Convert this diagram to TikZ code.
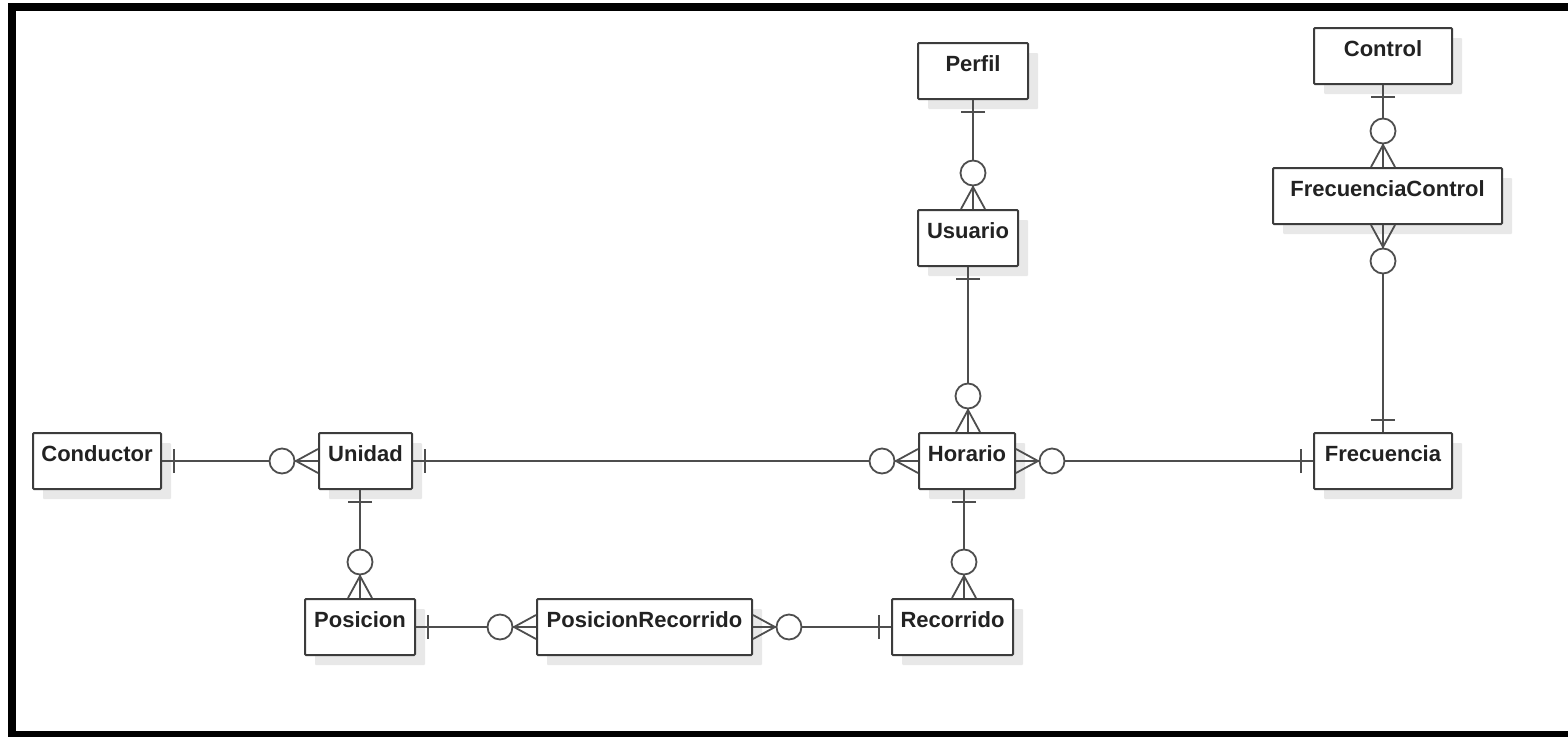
\documentclass[tikz,border=0pt]{standalone}
\usepackage{fontspec}
\setmainfont{Liberation Sans}
\usetikzlibrary{shadows}
\definecolor{edge}{HTML}{3C3C3C}
\definecolor{wire}{HTML}{4E4E4E}
\definecolor{ink}{HTML}{222222}

% one-side marker: a single bar across the line
\newcommand\oneend[2]{%
  \begin{scope}[shift={(#1)}, rotate=#2]
    \draw[wire line] (12,-12) -- (12,12);
  \end{scope}}
% zero-or-many marker: crow's foot at the box and an open circle beyond it
\newcommand\zeromany[2]{%
  \begin{scope}[shift={(#1)}, rotate=#2]
    \draw[wire line] (0,12) -- (22,0) -- (0,-12);
    \draw[wire line, fill=white] (36,0) circle (12.5);
  \end{scope}}

\begin{document}
\begin{tikzpicture}[x=1pt, y=-1pt,
  entity/.style={draw=edge, line width=2pt, fill=white, rounded corners=1pt,
    anchor=north west, inner sep=0pt, minimum height=56pt,
    text height=28pt, text depth=28pt, text=ink,
    font=\fontsize{22}{26}\selectfont\bfseries,
    drop shadow={shadow xshift=10pt, shadow yshift=-10pt, fill=black!9, opacity=1}},
  wire line/.style={draw=wire, line width=1.8pt}]

\useasboundingbox (0,0) rectangle (1568,737);
\fill[white] (0,0) rectangle (1568,737);

% frame
\fill[black] (8,3) rectangle (1568,11);
\fill[black] (8,3) rectangle (16,737);
\fill[black] (8,731) rectangle (1568,737);

% entities
\node[entity, minimum width=128pt] (conductor) at (32,432) {Conductor};
\node[entity, minimum width=93pt]  (unidad)    at (318,432) {Unidad};
\node[entity, minimum width=96pt]  (horario)   at (918,432) {Horario};
\node[entity, minimum width=138pt] (frecuencia) at (1313,432) {Frecuencia};
\node[entity, minimum width=110pt] (posicion)  at (304,598) {Posicion};
\node[entity, minimum width=215pt] (posrec)    at (536,598) {PosicionRecorrido};
\node[entity, minimum width=121pt] (recorrido) at (891,598) {Recorrido};
\node[entity, minimum width=110pt] (perfil)    at (917,42) {Perfil};
\node[entity, minimum width=100pt] (usuario)   at (917,209) {Usuario};
\node[entity, minimum width=138pt] (control)   at (1313,27) {Control};
\node[entity, minimum width=229pt] (freccontrol) at (1272,167) {FrecuenciaControl};

% relationships
\draw[wire line] (conductor.east) -- (unidad.west);
\oneend{conductor.east}{0}
\zeromany{unidad.west}{180}

\draw[wire line] (unidad.east) -- (horario.west);
\oneend{unidad.east}{0}
\zeromany{horario.west}{180}

\draw[wire line] (horario.east) -- (frecuencia.west);
\oneend{frecuencia.west}{180}
\zeromany{horario.east}{0}

\draw[wire line] (perfil.south) -- (perfil.south |- usuario.north);
\oneend{perfil.south}{-90}
\zeromany{perfil.south |- usuario.north}{90}

\draw[wire line] (usuario.south) -- (usuario.south |- horario.north);
\oneend{usuario.south}{-90}
\zeromany{usuario.south |- horario.north}{90}

\coordinate (hr) at ([xshift=-3pt]horario.south);
\draw[wire line] (hr) -- (hr |- recorrido.north);
\oneend{hr}{-90}
\zeromany{hr |- recorrido.north}{90}

\coordinate (up) at (unidad.south -| posicion.north);
\draw[wire line] (up) -- (posicion.north);
\oneend{up}{-90}
\zeromany{posicion.north}{90}

\draw[wire line] (posicion.east) -- (posrec.west);
\oneend{posicion.east}{0}
\zeromany{posrec.west}{180}

\draw[wire line] (posrec.east) -- (recorrido.west);
\oneend{recorrido.west}{180}
\zeromany{posrec.east}{0}

\draw[wire line] (control.south) -- (control.south |- freccontrol.north);
\oneend{control.south}{-90}
\zeromany{control.south |- freccontrol.north}{90}

\coordinate (fc) at (control.south |- freccontrol.south);
\draw[wire line] (fc) -- (fc |- frecuencia.north);
\zeromany{fc}{-90}
\oneend{fc |- frecuencia.north}{90}
\end{tikzpicture}
\end{document}
